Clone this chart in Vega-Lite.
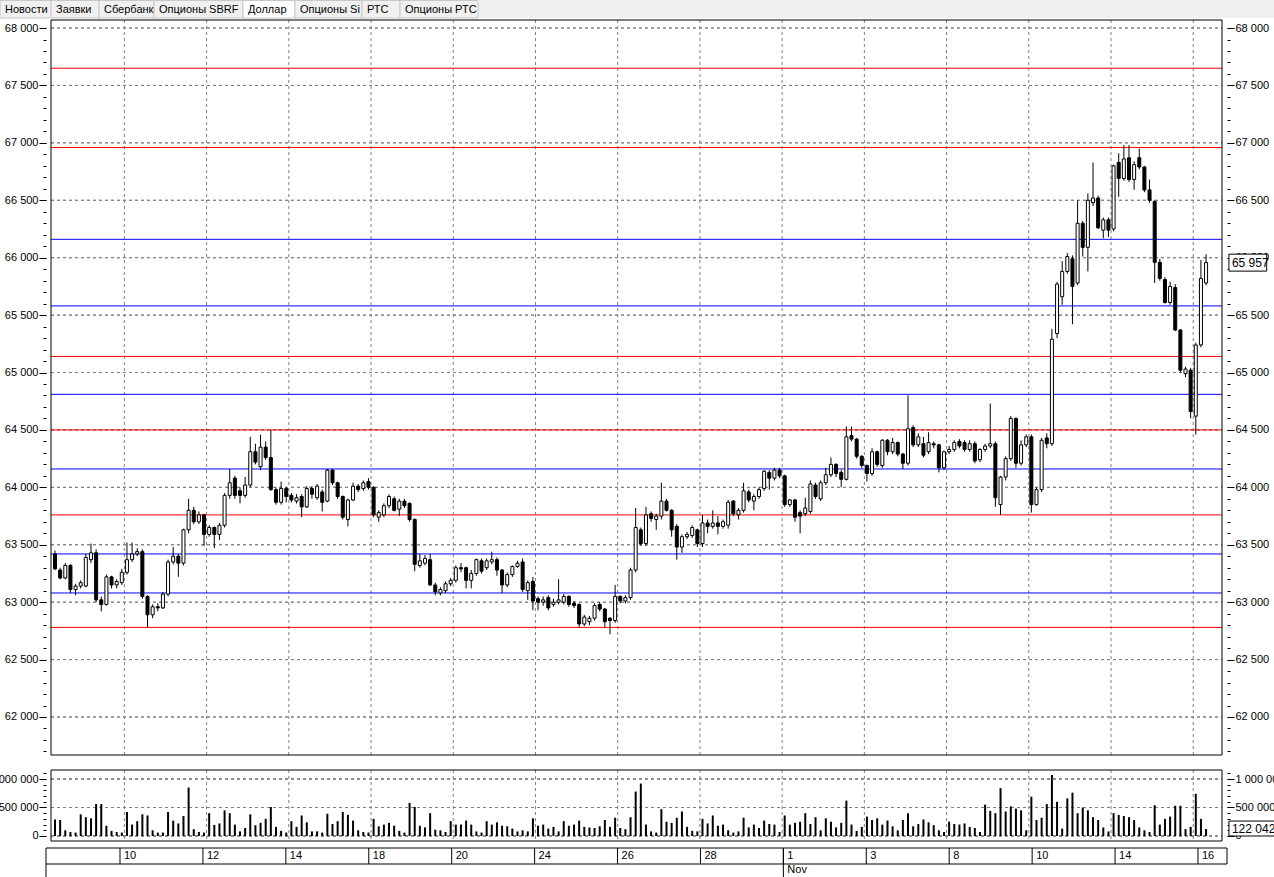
{
"$schema":"https://vega.github.io/schema/vega-lite/v6.json",
"width":1274,"height":877,
"autosize":{"type":"none"},
"padding":0,
"background":"#ffffff",
"config":{"view":{"stroke":null},"axis":{"labelFont":"Liberation Sans","labelFontSize":11,"labelColor":"#000000","tickColor":"#000000","zindex":0,"domain":false,"grid":false},"text":{"font":"Liberation Sans"}},
"datasets":{
"k":[
{"i":2,"o":63420,"h":63450,"l":63280,"c":63290,"v":290000},
{"i":3,"o":63280,"h":63300,"l":63200,"c":63210,"v":280000},
{"i":4,"o":63210,"h":63340,"l":63200,"c":63320,"v":100000},
{"i":5,"o":63320,"h":63330,"l":63080,"c":63110,"v":70000},
{"i":6,"o":63110,"h":63160,"l":63060,"c":63140,"v":60000},
{"i":7,"o":63140,"h":63190,"l":63120,"c":63170,"v":380000},
{"i":8,"o":63140,"h":63420,"l":63130,"c":63390,"v":330000},
{"i":9,"o":63370,"h":63510,"l":63340,"c":63430,"v":310000},
{"i":10,"o":63430,"h":63460,"l":63000,"c":63020,"v":560000},
{"i":11,"o":63020,"h":63050,"l":62920,"c":62980,"v":560000},
{"i":12,"o":62980,"h":63240,"l":62970,"c":63220,"v":180000},
{"i":13,"o":63220,"h":63230,"l":63120,"c":63150,"v":90000},
{"i":14,"o":63150,"h":63200,"l":63120,"c":63180,"v":70000},
{"i":15,"o":63170,"h":63290,"l":63150,"c":63260,"v":60000},
{"i":16,"o":63260,"h":63520,"l":63240,"c":63370,"v":420000},
{"i":17,"o":63370,"h":63520,"l":63350,"c":63420,"v":200000},
{"i":18,"o":63420,"h":63470,"l":63400,"c":63440,"v":260000},
{"i":19,"o":63440,"h":63460,"l":63030,"c":63050,"v":380000},
{"i":20,"o":63050,"h":63060,"l":62780,"c":62890,"v":360000},
{"i":21,"o":62890,"h":62980,"l":62860,"c":62960,"v":100000},
{"i":22,"o":62960,"h":62990,"l":62920,"c":62950,"v":60000},
{"i":23,"o":62950,"h":63090,"l":62940,"c":63070,"v":60000},
{"i":24,"o":63070,"h":63370,"l":63050,"c":63350,"v":420000},
{"i":25,"o":63350,"h":63480,"l":63330,"c":63400,"v":270000},
{"i":26,"o":63400,"h":63420,"l":63220,"c":63340,"v":220000},
{"i":27,"o":63340,"h":63640,"l":63320,"c":63630,"v":350000},
{"i":28,"o":63630,"h":63900,"l":63600,"c":63800,"v":850000},
{"i":29,"o":63800,"h":63830,"l":63680,"c":63700,"v":120000},
{"i":30,"o":63700,"h":63790,"l":63680,"c":63760,"v":70000},
{"i":31,"o":63760,"h":63770,"l":63490,"c":63590,"v":60000},
{"i":32,"o":63590,"h":63670,"l":63570,"c":63650,"v":400000},
{"i":33,"o":63650,"h":63660,"l":63470,"c":63590,"v":195000},
{"i":34,"o":63590,"h":63690,"l":63540,"c":63670,"v":220000},
{"i":35,"o":63670,"h":63950,"l":63650,"c":63930,"v":450000},
{"i":36,"o":63930,"h":64160,"l":63900,"c":64040,"v":400000},
{"i":37,"o":64080,"h":64100,"l":63900,"c":63930,"v":200000},
{"i":38,"o":63970,"h":64000,"l":63860,"c":63930,"v":80000},
{"i":39,"o":63930,"h":64090,"l":63910,"c":64020,"v":140000},
{"i":40,"o":64020,"h":64440,"l":64000,"c":64310,"v":380000},
{"i":41,"o":64310,"h":64380,"l":64200,"c":64220,"v":190000},
{"i":42,"o":64180,"h":64460,"l":64150,"c":64350,"v":230000},
{"i":43,"o":64350,"h":64400,"l":64240,"c":64260,"v":300000},
{"i":44,"o":64260,"h":64500,"l":63970,"c":63980,"v":510000},
{"i":45,"o":63980,"h":64000,"l":63850,"c":63870,"v":160000},
{"i":46,"o":63870,"h":64050,"l":63850,"c":63990,"v":90000},
{"i":47,"o":63990,"h":64000,"l":63870,"c":63920,"v":60000},
{"i":48,"o":63930,"h":63950,"l":63870,"c":63890,"v":260000},
{"i":49,"o":63880,"h":63940,"l":63860,"c":63910,"v":160000},
{"i":50,"o":63920,"h":63940,"l":63740,"c":63830,"v":360000},
{"i":51,"o":63830,"h":64010,"l":63820,"c":63990,"v":240000},
{"i":52,"o":63990,"h":64010,"l":63900,"c":63940,"v":80000},
{"i":53,"o":63910,"h":64030,"l":63890,"c":64010,"v":80000},
{"i":54,"o":63960,"h":63980,"l":63790,"c":63870,"v":60000},
{"i":55,"o":63880,"h":64160,"l":63870,"c":64150,"v":390000},
{"i":56,"o":64150,"h":64160,"l":64020,"c":64040,"v":210000},
{"i":57,"o":64040,"h":64050,"l":63900,"c":63920,"v":260000},
{"i":58,"o":63920,"h":63930,"l":63720,"c":63740,"v":420000},
{"i":59,"o":63720,"h":63900,"l":63660,"c":63890,"v":370000},
{"i":60,"o":63890,"h":64040,"l":63880,"c":64010,"v":270000},
{"i":61,"o":64010,"h":64030,"l":63960,"c":63980,"v":100000},
{"i":62,"o":63990,"h":64060,"l":63970,"c":64040,"v":70000},
{"i":63,"o":64050,"h":64080,"l":63980,"c":64000,"v":60000},
{"i":64,"o":64000,"h":64010,"l":63740,"c":63760,"v":300000},
{"i":65,"o":63740,"h":63800,"l":63700,"c":63780,"v":170000},
{"i":66,"o":63760,"h":63860,"l":63740,"c":63840,"v":200000},
{"i":67,"o":63840,"h":63940,"l":63820,"c":63920,"v":230000},
{"i":68,"o":63900,"h":63920,"l":63790,"c":63800,"v":180000},
{"i":69,"o":63810,"h":63900,"l":63750,"c":63880,"v":90000},
{"i":70,"o":63880,"h":63900,"l":63820,"c":63840,"v":60000},
{"i":71,"o":63860,"h":63870,"l":63700,"c":63720,"v":580000},
{"i":72,"o":63720,"h":63730,"l":63270,"c":63330,"v":510000},
{"i":73,"o":63320,"h":63420,"l":63300,"c":63360,"v":180000},
{"i":74,"o":63340,"h":63410,"l":63320,"c":63380,"v":150000},
{"i":75,"o":63370,"h":63420,"l":63140,"c":63150,"v":400000},
{"i":76,"o":63150,"h":63170,"l":63060,"c":63090,"v":110000},
{"i":77,"o":63080,"h":63130,"l":63060,"c":63110,"v":100000},
{"i":78,"o":63100,"h":63180,"l":63080,"c":63160,"v":70000},
{"i":79,"o":63160,"h":63210,"l":63140,"c":63190,"v":260000},
{"i":80,"o":63190,"h":63320,"l":63170,"c":63300,"v":200000},
{"i":81,"o":63300,"h":63340,"l":63260,"c":63290,"v":200000},
{"i":82,"o":63300,"h":63310,"l":63120,"c":63190,"v":270000},
{"i":83,"o":63190,"h":63280,"l":63120,"c":63250,"v":200000},
{"i":84,"o":63250,"h":63380,"l":63230,"c":63370,"v":80000},
{"i":85,"o":63360,"h":63380,"l":63250,"c":63270,"v":60000},
{"i":86,"o":63300,"h":63380,"l":63280,"c":63360,"v":260000},
{"i":87,"o":63350,"h":63440,"l":63330,"c":63370,"v":200000},
{"i":88,"o":63370,"h":63390,"l":63230,"c":63280,"v":240000},
{"i":89,"o":63280,"h":63290,"l":63080,"c":63150,"v":180000},
{"i":90,"o":63150,"h":63260,"l":63130,"c":63240,"v":170000},
{"i":91,"o":63240,"h":63320,"l":63220,"c":63310,"v":130000},
{"i":92,"o":63310,"h":63360,"l":63300,"c":63340,"v":80000},
{"i":93,"o":63350,"h":63380,"l":63090,"c":63110,"v":100000},
{"i":94,"o":63100,"h":63190,"l":63020,"c":63170,"v":80000},
{"i":95,"o":63180,"h":63220,"l":62930,"c":63010,"v":310000},
{"i":96,"o":63030,"h":63050,"l":62930,"c":63000,"v":180000},
{"i":97,"o":63000,"h":63050,"l":62970,"c":63020,"v":200000},
{"i":98,"o":63040,"h":63060,"l":62930,"c":62950,"v":130000},
{"i":99,"o":62980,"h":63030,"l":62960,"c":63000,"v":160000},
{"i":100,"o":63000,"h":63200,"l":62980,"c":63020,"v":80000},
{"i":101,"o":63000,"h":63070,"l":62980,"c":63050,"v":260000},
{"i":102,"o":63050,"h":63060,"l":62960,"c":62980,"v":180000},
{"i":103,"o":62990,"h":63010,"l":62950,"c":62970,"v":200000},
{"i":104,"o":62980,"h":62990,"l":62780,"c":62810,"v":270000},
{"i":105,"o":62810,"h":62890,"l":62790,"c":62870,"v":160000},
{"i":106,"o":62830,"h":62880,"l":62800,"c":62860,"v":150000},
{"i":107,"o":62860,"h":62990,"l":62840,"c":62970,"v":140000},
{"i":108,"o":62980,"h":63000,"l":62920,"c":62940,"v":170000},
{"i":109,"o":62940,"h":62950,"l":62780,"c":62830,"v":280000},
{"i":110,"o":62860,"h":62870,"l":62720,"c":62840,"v":160000},
{"i":111,"o":62840,"h":63150,"l":62820,"c":63050,"v":320000},
{"i":112,"o":63050,"h":63060,"l":62990,"c":63010,"v":140000},
{"i":113,"o":63010,"h":63060,"l":62990,"c":63040,"v":120000},
{"i":114,"o":63040,"h":63300,"l":63020,"c":63280,"v":330000},
{"i":115,"o":63280,"h":63820,"l":63260,"c":63650,"v":780000},
{"i":116,"o":63630,"h":63650,"l":63490,"c":63510,"v":920000},
{"i":117,"o":63510,"h":63830,"l":63490,"c":63760,"v":200000},
{"i":118,"o":63770,"h":63790,"l":63700,"c":63730,"v":80000},
{"i":119,"o":63720,"h":63770,"l":63630,"c":63750,"v":60000},
{"i":120,"o":63750,"h":64040,"l":63720,"c":63880,"v":470000},
{"i":121,"o":63880,"h":63900,"l":63790,"c":63800,"v":250000},
{"i":122,"o":63800,"h":63810,"l":63570,"c":63630,"v":230000},
{"i":123,"o":63660,"h":63680,"l":63370,"c":63480,"v":320000},
{"i":124,"o":63480,"h":63590,"l":63430,"c":63570,"v":430000},
{"i":125,"o":63570,"h":63610,"l":63550,"c":63590,"v":160000},
{"i":126,"o":63580,"h":63670,"l":63560,"c":63650,"v":90000},
{"i":127,"o":63630,"h":63640,"l":63480,"c":63510,"v":80000},
{"i":128,"o":63510,"h":63760,"l":63480,"c":63690,"v":300000},
{"i":129,"o":63690,"h":63720,"l":63600,"c":63660,"v":220000},
{"i":130,"o":63660,"h":63800,"l":63640,"c":63690,"v":360000},
{"i":131,"o":63690,"h":63750,"l":63590,"c":63660,"v":180000},
{"i":132,"o":63660,"h":63720,"l":63640,"c":63700,"v":200000},
{"i":133,"o":63670,"h":63890,"l":63640,"c":63870,"v":100000},
{"i":134,"o":63880,"h":63890,"l":63750,"c":63770,"v":60000},
{"i":135,"o":63760,"h":63820,"l":63720,"c":63800,"v":80000},
{"i":136,"o":63800,"h":64040,"l":63780,"c":63970,"v":320000},
{"i":137,"o":63960,"h":63980,"l":63870,"c":63890,"v":150000},
{"i":138,"o":63880,"h":63940,"l":63800,"c":63920,"v":200000},
{"i":139,"o":63920,"h":64000,"l":63900,"c":63980,"v":140000},
{"i":140,"o":63990,"h":64150,"l":63970,"c":64140,"v":270000},
{"i":141,"o":64130,"h":64150,"l":63980,"c":64080,"v":210000},
{"i":142,"o":64080,"h":64170,"l":64060,"c":64150,"v":200000},
{"i":143,"o":64150,"h":64170,"l":64080,"c":64100,"v":70000},
{"i":144,"o":64100,"h":64110,"l":63830,"c":63850,"v":360000},
{"i":145,"o":63850,"h":63900,"l":63830,"c":63890,"v":200000},
{"i":146,"o":63890,"h":63900,"l":63700,"c":63740,"v":230000},
{"i":147,"o":63780,"h":63800,"l":63600,"c":63750,"v":250000},
{"i":148,"o":63770,"h":63910,"l":63750,"c":63820,"v":400000},
{"i":149,"o":63790,"h":64060,"l":63770,"c":64030,"v":210000},
{"i":150,"o":64020,"h":64040,"l":63900,"c":63920,"v":330000},
{"i":151,"o":63900,"h":64060,"l":63880,"c":64040,"v":100000},
{"i":152,"o":64040,"h":64170,"l":64020,"c":64110,"v":310000},
{"i":153,"o":64110,"h":64260,"l":64090,"c":64200,"v":250000},
{"i":154,"o":64200,"h":64210,"l":64090,"c":64120,"v":150000},
{"i":155,"o":64130,"h":64150,"l":64000,"c":64070,"v":230000},
{"i":156,"o":64070,"h":64530,"l":64060,"c":64440,"v":620000},
{"i":157,"o":64450,"h":64530,"l":64400,"c":64420,"v":200000},
{"i":158,"o":64420,"h":64430,"l":64250,"c":64270,"v":90000},
{"i":159,"o":64270,"h":64280,"l":64170,"c":64190,"v":160000},
{"i":160,"o":64190,"h":64200,"l":64050,"c":64120,"v":340000},
{"i":161,"o":64120,"h":64340,"l":64100,"c":64310,"v":280000},
{"i":162,"o":64310,"h":64320,"l":64180,"c":64200,"v":310000},
{"i":163,"o":64190,"h":64420,"l":64170,"c":64410,"v":200000},
{"i":164,"o":64410,"h":64420,"l":64280,"c":64310,"v":270000},
{"i":165,"o":64310,"h":64430,"l":64290,"c":64390,"v":170000},
{"i":166,"o":64390,"h":64400,"l":64270,"c":64290,"v":100000},
{"i":167,"o":64290,"h":64300,"l":64160,"c":64210,"v":280000},
{"i":168,"o":64210,"h":64800,"l":64190,"c":64510,"v":400000},
{"i":169,"o":64520,"h":64540,"l":64350,"c":64370,"v":170000},
{"i":170,"o":64370,"h":64470,"l":64350,"c":64440,"v":210000},
{"i":171,"o":64380,"h":64440,"l":64260,"c":64280,"v":290000},
{"i":172,"o":64310,"h":64480,"l":64290,"c":64390,"v":240000},
{"i":173,"o":64380,"h":64400,"l":64340,"c":64370,"v":190000},
{"i":174,"o":64370,"h":64380,"l":64130,"c":64170,"v":100000},
{"i":175,"o":64170,"h":64320,"l":64150,"c":64310,"v":70000},
{"i":176,"o":64310,"h":64360,"l":64290,"c":64330,"v":250000},
{"i":177,"o":64330,"h":64410,"l":64310,"c":64390,"v":210000},
{"i":178,"o":64400,"h":64420,"l":64340,"c":64360,"v":200000},
{"i":179,"o":64390,"h":64410,"l":64310,"c":64330,"v":220000},
{"i":180,"o":64330,"h":64410,"l":64310,"c":64380,"v":160000},
{"i":181,"o":64380,"h":64400,"l":64210,"c":64230,"v":140000},
{"i":182,"o":64240,"h":64340,"l":64220,"c":64330,"v":70000},
{"i":183,"o":64330,"h":64380,"l":64310,"c":64360,"v":550000},
{"i":184,"o":64360,"h":64730,"l":64340,"c":64380,"v":440000},
{"i":185,"o":64380,"h":64400,"l":63830,"c":63910,"v":400000},
{"i":186,"o":63850,"h":64100,"l":63760,"c":64090,"v":840000},
{"i":187,"o":64090,"h":64270,"l":64060,"c":64250,"v":430000},
{"i":188,"o":64250,"h":64620,"l":64230,"c":64600,"v":520000},
{"i":189,"o":64600,"h":64610,"l":64170,"c":64210,"v":480000},
{"i":190,"o":64210,"h":64410,"l":64190,"c":64370,"v":450000},
{"i":191,"o":64370,"h":64460,"l":64350,"c":64440,"v":100000},
{"i":192,"o":64440,"h":64460,"l":63780,"c":63850,"v":690000},
{"i":193,"o":63850,"h":64000,"l":63840,"c":63980,"v":280000},
{"i":194,"o":63980,"h":64430,"l":63960,"c":64410,"v":320000},
{"i":195,"o":64430,"h":64470,"l":64340,"c":64380,"v":560000},
{"i":196,"o":64380,"h":65380,"l":64360,"c":65290,"v":1070000},
{"i":197,"o":65340,"h":65790,"l":65300,"c":65770,"v":600000},
{"i":198,"o":65660,"h":65970,"l":65590,"c":65880,"v":130000},
{"i":199,"o":65880,"h":66040,"l":65860,"c":66010,"v":660000},
{"i":200,"o":65990,"h":66020,"l":65420,"c":65750,"v":760000},
{"i":201,"o":65780,"h":66500,"l":65760,"c":66300,"v":400000},
{"i":202,"o":66300,"h":66320,"l":66010,"c":66090,"v":500000},
{"i":203,"o":66090,"h":66560,"l":65880,"c":66500,"v":450000},
{"i":204,"o":66480,"h":66830,"l":66450,"c":66520,"v":330000},
{"i":205,"o":66520,"h":66540,"l":66250,"c":66260,"v":280000},
{"i":206,"o":66240,"h":66350,"l":66170,"c":66330,"v":150000},
{"i":207,"o":66330,"h":66350,"l":66180,"c":66240,"v":80000},
{"i":208,"o":66250,"h":66810,"l":66230,"c":66800,"v":400000},
{"i":209,"o":66830,"h":66910,"l":66530,"c":66690,"v":370000},
{"i":210,"o":66690,"h":66980,"l":66670,"c":66860,"v":350000},
{"i":211,"o":66870,"h":66980,"l":66660,"c":66680,"v":330000},
{"i":212,"o":66680,"h":66840,"l":66590,"c":66810,"v":280000},
{"i":213,"o":66870,"h":66950,"l":66770,"c":66790,"v":150000},
{"i":214,"o":66790,"h":66800,"l":66570,"c":66590,"v":100000},
{"i":215,"o":66590,"h":66680,"l":66480,"c":66500,"v":70000},
{"i":216,"o":66490,"h":66500,"l":65780,"c":65960,"v":540000},
{"i":217,"o":65960,"h":65990,"l":65800,"c":65820,"v":200000},
{"i":218,"o":65810,"h":65830,"l":65600,"c":65610,"v":300000},
{"i":219,"o":65610,"h":65790,"l":65590,"c":65750,"v":340000},
{"i":220,"o":65740,"h":65770,"l":65360,"c":65370,"v":530000},
{"i":221,"o":65370,"h":65380,"l":65000,"c":65020,"v":530000},
{"i":222,"o":64990,"h":65050,"l":64960,"c":65030,"v":120000},
{"i":223,"o":65020,"h":65040,"l":64600,"c":64660,"v":160000},
{"i":224,"o":64620,"h":65260,"l":64460,"c":65240,"v":740000},
{"i":225,"o":65240,"h":65980,"l":65220,"c":65820,"v":300000},
{"i":226,"o":65780,"h":66030,"l":65760,"c":65957,"v":122042}
],
"lv":[{"p":67650,"k":"r"},{"p":66960,"k":"r"},{"p":66160,"k":"b"},{"p":65580,"k":"b"},{"p":65140,"k":"r"},{"p":64810,"k":"b"},{"p":64500,"k":"r"},{"p":64160,"k":"b"},{"p":63760,"k":"r"},{"p":63420,"k":"b"},{"p":63080,"k":"b"},{"p":62780,"k":"r"}],
"pg":[{"p":62000},{"p":62500},{"p":63000},{"p":63500},{"p":64000},{"p":64500},{"p":65000},{"p":65500},{"p":66000},{"p":66500},{"p":67000},{"p":67500},{"p":68000}],
"vg":[{"v":0},{"v":500000},{"v":1000000}],
"days":[{"b":15.5,"lab":"10"},{"b":31.5,"lab":"12"},{"b":47.5,"lab":"14"},{"b":63.5,"lab":"18"},{"b":79.5,"lab":"20"},{"b":95.5,"lab":"24"},{"b":111.5,"lab":"26"},{"b":127.5,"lab":"28"},{"b":143.5,"lab":"1"},{"b":159.5,"lab":"3"},{"b":175.5,"lab":"8"},{"b":191.5,"lab":"10"},{"b":207.5,"lab":"14"},{"b":223.5,"lab":"16"}],
"mo":[{"b":143.5,"m":"Nov"}],
"last":[{"p":65957,"t":"65 957"}],
"lastv":[{"v":122042,"t":"122 042"}],
"tabs":[{"n":"Новости","x0":0,"x1":51,"a":0},{"n":"Заявки","x0":51,"x1":99,"a":0},{"n":"Сбербанк","x0":99,"x1":154,"a":0},{"n":"Опционы SBRF","x0":154,"x1":243,"a":0},{"n":"Доллар","x0":243,"x1":295,"a":1},{"n":"Опционы Si","x0":295,"x1":362,"a":0},{"n":"РТС","x0":362,"x1":400,"a":0},{"n":"Опционы РТС","x0":400,"x1":478,"a":0}]
},
"layer":[
{"layer":[
 {"data":{"values":[{}]},"mark":{"type":"rect","fill":"#f0f0f0"},
  "encoding":{"x":{"datum":0,"type":"quantitative","scale":{"domain":[0,1274],"range":[0,1274],"nice":false,"zero":false},"axis":null},"x2":{"datum":1274},
   "y":{"datum":0,"type":"quantitative","scale":{"domain":[0,18],"range":[0,18],"nice":false,"zero":false},"axis":null},"y2":{"datum":18}}},
 {"data":{"name":"tabs"},"mark":{"type":"rect","stroke":"#c8c8c8","strokeWidth":1},
  "encoding":{"x":{"field":"x0","type":"quantitative","scale":{"domain":[0,1274],"range":[0,1274],"nice":false,"zero":false},"axis":null},"x2":{"field":"x1"},
   "y":{"datum":0.5,"type":"quantitative","scale":{"domain":[0,18],"range":[0,18],"nice":false,"zero":false},"axis":null},"y2":{"datum":18},
   "fill":{"condition":{"test":"datum.a == 1","value":"#ffffff"},"value":"#f0f0f0"}}},
 {"data":{"name":"tabs"},"mark":{"type":"text","align":"left","baseline":"middle","fontSize":11,"dx":5,"color":"#000000"},
  "encoding":{"x":{"field":"x0","type":"quantitative","scale":{"domain":[0,1274],"range":[0,1274],"nice":false,"zero":false},"axis":null},
   "y":{"datum":9.5,"type":"quantitative","scale":{"domain":[0,18],"range":[0,18],"nice":false,"zero":false},"axis":null},
   "text":{"field":"n","type":"nominal"}}}
]},
{"layer":[
 {"data":{"name":"pg"},"mark":{"type":"rule","color":"#808080","strokeDash":[3,3],"strokeWidth":1},
  "encoding":{"y":{"field":"p","type":"quantitative","title":null,"scale":{"domain":[61669,68070],"range":[755,20],"nice":false,"zero":false},
     "axis":{"orient":"left","offset":-46,"values":[62000,62500,63000,63500,64000,64500,65000,65500,66000,66500,67000,67500,68000],"tickSize":7,"labelPadding":1,"labelExpr":"replace(format(datum.value, ','), ',', ' ')","domain":false,"grid":false,"title":null,"labelOverlap":false,"labelFlush":false}},
   "x":{"datum":1.22,"type":"quantitative","scale":{"domain":[1.22,229.1],"range":[46,1227],"nice":false,"zero":false},"axis":null},"x2":{"datum":229.1}}},
 {"data":{"name":"pg"},"mark":{"type":"rule","color":"#808080","strokeDash":[3,3],"strokeWidth":1},
  "encoding":{"y":{"field":"p","type":"quantitative","title":null,"scale":{"domain":[61669,68070],"range":[755,20],"nice":false,"zero":false},
     "axis":{"orient":"right","offset":-47,"values":[62000,62500,63000,63500,64000,64500,65000,65500,66000,66500,67000,67500,68000],"tickSize":7,"labelPadding":1,"labelExpr":"replace(format(datum.value, ','), ',', ' ')","domain":false,"grid":false,"title":null,"labelOverlap":false,"labelFlush":false}},
   "x":{"datum":1.22,"type":"quantitative","scale":{"domain":[1.22,229.1],"range":[46,1227],"nice":false,"zero":false},"axis":null},"x2":{"datum":229.1}}},
 {"data":{"name":"days"},"mark":{"type":"rule","color":"#808080","strokeDash":[3,3],"strokeWidth":1},
  "encoding":{"x":{"field":"b","type":"quantitative","scale":{"domain":[1.22,229.1],"range":[46,1227],"nice":false,"zero":false},"axis":null},
   "y":{"datum":68070,"type":"quantitative","scale":{"domain":[61669,68070],"range":[755,20],"nice":false,"zero":false},"axis":null},"y2":{"datum":61669}}},
 {"data":{"name":"lv"},"mark":{"type":"rule","strokeWidth":1},
  "encoding":{"y":{"field":"p","type":"quantitative","scale":{"domain":[61669,68070],"range":[755,20],"nice":false,"zero":false},"axis":null},
   "x":{"datum":1.22,"type":"quantitative","scale":{"domain":[1.22,229.1],"range":[46,1227],"nice":false,"zero":false},"axis":null},"x2":{"datum":229.1},
   "color":{"field":"k","type":"nominal","scale":{"domain":["r","b"],"range":["#ff0000","#0000ff"]},"legend":null}}},
 {"data":{"values":[{}]},"mark":{"type":"rect","fillOpacity":0,"stroke":"#000000","strokeWidth":1},
  "encoding":{"x":{"datum":1.22,"type":"quantitative","scale":{"domain":[1.22,229.1],"range":[46,1227],"nice":false,"zero":false},"axis":null},"x2":{"datum":229.1},
   "y":{"datum":68070,"type":"quantitative","scale":{"domain":[61669,68070],"range":[755,20],"nice":false,"zero":false},"axis":null},"y2":{"datum":61669}}},
 {"data":{"name":"k"},"mark":{"type":"rule","color":"#000000","strokeWidth":1},
  "encoding":{"x":{"field":"i","type":"quantitative","scale":{"domain":[1.22,229.1],"range":[46,1227],"nice":false,"zero":false},"axis":null},
   "y":{"field":"l","type":"quantitative","title":null,"scale":{"domain":[61669,68070],"range":[755,20],"nice":false,"zero":false},
     "axis":{"orient":"left","offset":-46,"values":[61700,61800,61900,62000,62100,62200,62300,62400,62500,62600,62700,62800,62900,63000,63100,63200,63300,63400,63500,63600,63700,63800,63900,64000,64100,64200,64300,64400,64500,64600,64700,64800,64900,65000,65100,65200,65300,65400,65500,65600,65700,65800,65900,66000,66100,66200,66300,66400,66500,66600,66700,66800,66900,67000,67100,67200,67300,67400,67500,67600,67700,67800,67900,68000],"tickSize":3,"labels":false,"domain":false,"grid":false,"title":null}},
   "y2":{"field":"h"}}},
 {"data":{"name":"k"},"mark":{"type":"bar","width":3,"stroke":"#000000","strokeWidth":1},
  "encoding":{"x":{"field":"i","type":"quantitative","scale":{"domain":[1.22,229.1],"range":[46,1227],"nice":false,"zero":false},"axis":null},
   "y":{"field":"o","type":"quantitative","title":null,"scale":{"domain":[61669,68070],"range":[755,20],"nice":false,"zero":false},
     "axis":{"orient":"right","offset":-47,"values":[61700,61800,61900,62000,62100,62200,62300,62400,62500,62600,62700,62800,62900,63000,63100,63200,63300,63400,63500,63600,63700,63800,63900,64000,64100,64200,64300,64400,64500,64600,64700,64800,64900,65000,65100,65200,65300,65400,65500,65600,65700,65800,65900,66000,66100,66200,66300,66400,66500,66600,66700,66800,66900,67000,67100,67200,67300,67400,67500,67600,67700,67800,67900,68000],"tickSize":3,"labels":false,"domain":false,"grid":false,"title":null}},
   "y2":{"field":"c"},
   "fill":{"condition":{"test":"datum.c < datum.o","value":"#000000"},"value":"#ffffff"}}},
 {"data":{"name":"last"},"mark":{"type":"rect","fill":"#ffffff","stroke":"#000000","strokeWidth":1},
  "encoding":{"x":{"datum":230.45,"type":"quantitative","scale":{"domain":[1.22,229.1],"range":[46,1227],"nice":false,"zero":false},"axis":null},"x2":{"datum":237.8},
   "y":{"datum":66031,"type":"quantitative","scale":{"domain":[61669,68070],"range":[755,20],"nice":false,"zero":false},"axis":null},"y2":{"datum":65883}}},
 {"data":{"name":"last"},"mark":{"type":"text","align":"left","baseline":"middle","fontSize":12,"dx":3,"color":"#000000"},
  "encoding":{"x":{"datum":230.45,"type":"quantitative","scale":{"domain":[1.22,229.1],"range":[46,1227],"nice":false,"zero":false},"axis":null},
   "y":{"field":"p","type":"quantitative","scale":{"domain":[61669,68070],"range":[755,20],"nice":false,"zero":false},"axis":null},
   "text":{"field":"t","type":"nominal"}}}
],
"resolve":{"axis":{"y":"independent"}}},
{"layer":[
 {"data":{"name":"vg"},"mark":{"type":"rule","color":"#808080","strokeDash":[3,3],"strokeWidth":1},
  "encoding":{"y":{"field":"v","type":"quantitative","title":null,"scale":{"domain":[-88000,1158000],"range":[841,770],"nice":false,"zero":false},
     "axis":{"orient":"left","offset":-46,"values":[0,500000,1000000],"tickSize":7,"labelPadding":1,"labelExpr":"replace(format(datum.value, ','), regexp(',', 'g'), ' ')","domain":false,"grid":false,"title":null,"labelOverlap":false,"labelFlush":false}},
   "x":{"datum":1.22,"type":"quantitative","scale":{"domain":[1.22,229.1],"range":[46,1227],"nice":false,"zero":false},"axis":null},"x2":{"datum":229.1}}},
 {"data":{"name":"vg"},"mark":{"type":"rule","color":"#808080","strokeDash":[3,3],"strokeWidth":1},
  "encoding":{"y":{"field":"v","type":"quantitative","title":null,"scale":{"domain":[-88000,1158000],"range":[841,770],"nice":false,"zero":false},
     "axis":{"orient":"right","offset":-47,"values":[0,500000,1000000],"tickSize":7,"labelPadding":1,"labelExpr":"replace(format(datum.value, ','), regexp(',', 'g'), ' ')","domain":false,"grid":false,"title":null,"labelOverlap":false,"labelFlush":false}},
   "x":{"datum":1.22,"type":"quantitative","scale":{"domain":[1.22,229.1],"range":[46,1227],"nice":false,"zero":false},"axis":null},"x2":{"datum":229.1}}},
 {"data":{"name":"vg"},"mark":{"type":"rule","color":"#808080","strokeDash":[3,3],"strokeWidth":1},
  "encoding":{"y":{"field":"v","type":"quantitative","title":null,"scale":{"domain":[-88000,1158000],"range":[841,770],"nice":false,"zero":false},
     "axis":{"orient":"right","offset":-47,"values":[0,100000,200000,300000,400000,500000,600000,700000,800000,900000,1000000,1100000],"tickSize":3,"labels":false,"domain":false,"grid":false,"title":null}},
   "x":{"datum":1.22,"type":"quantitative","scale":{"domain":[1.22,229.1],"range":[46,1227],"nice":false,"zero":false},"axis":null},"x2":{"datum":229.1}}},
 {"data":{"name":"days"},"mark":{"type":"rule","color":"#808080","strokeDash":[3,3],"strokeWidth":1},
  "encoding":{"x":{"field":"b","type":"quantitative","scale":{"domain":[1.22,229.1],"range":[46,1227],"nice":false,"zero":false},"axis":null},
   "y":{"datum":1158000,"type":"quantitative","scale":{"domain":[-88000,1158000],"range":[841,770],"nice":false,"zero":false},"axis":null},"y2":{"datum":-88000}}},
 {"data":{"values":[{}]},"mark":{"type":"rect","fillOpacity":0,"stroke":"#000000","strokeWidth":1},
  "encoding":{"x":{"datum":1.22,"type":"quantitative","scale":{"domain":[1.22,229.1],"range":[46,1227],"nice":false,"zero":false},"axis":null},"x2":{"datum":229.1},
   "y":{"datum":1158000,"type":"quantitative","scale":{"domain":[-88000,1158000],"range":[841,770],"nice":false,"zero":false},"axis":null},"y2":{"datum":-88000}}},
 {"data":{"name":"k"},"mark":{"type":"bar","width":2,"color":"#000000"},
  "encoding":{"x":{"field":"i","type":"quantitative","scale":{"domain":[1.22,229.1],"range":[46,1227],"nice":false,"zero":false},"axis":null},
   "y":{"field":"v","type":"quantitative","stack":null,"title":null,"scale":{"domain":[-88000,1158000],"range":[841,770],"nice":false,"zero":false},
     "axis":{"orient":"left","offset":-46,"values":[0,100000,200000,300000,400000,500000,600000,700000,800000,900000,1000000,1100000],"tickSize":3,"labels":false,"domain":false,"grid":false,"title":null}},
   "y2":{"datum":0}}},
 {"data":{"name":"lastv"},"mark":{"type":"rect","fill":"#ffffff","stroke":"#000000","strokeWidth":1},
  "encoding":{"x":{"datum":230.45,"type":"quantitative","scale":{"domain":[1.22,229.1],"range":[46,1227],"nice":false,"zero":false},"axis":null},"x2":{"datum":240},
   "y":{"datum":262000,"type":"quantitative","scale":{"domain":[-88000,1158000],"range":[841,770],"nice":false,"zero":false},"axis":null},"y2":{"datum":0}}},
 {"data":{"name":"lastv"},"mark":{"type":"text","align":"left","baseline":"middle","fontSize":12,"dx":3,"color":"#000000"},
  "encoding":{"x":{"datum":230.45,"type":"quantitative","scale":{"domain":[1.22,229.1],"range":[46,1227],"nice":false,"zero":false},"axis":null},
   "y":{"field":"v","type":"quantitative","scale":{"domain":[-88000,1158000],"range":[841,770],"nice":false,"zero":false},"axis":null},
   "text":{"field":"t","type":"nominal"}}}
],
"resolve":{"axis":{"y":"independent"}}},
{"layer":[
 {"data":{"values":[{}]},"mark":{"type":"rect","fillOpacity":0,"stroke":"#000000","strokeWidth":1},
  "encoding":{"x":{"datum":1.22,"type":"quantitative","scale":{"domain":[1.22,229.1],"range":[46,1227],"nice":false,"zero":false},"axis":null},"x2":{"datum":229.1},
   "y":{"datum":0,"type":"quantitative","scale":{"domain":[0,2],"range":[848,880],"nice":false,"zero":false},"axis":null},"y2":{"datum":1}}},
 {"data":{"name":"days"},"mark":{"type":"rule","color":"#000000","strokeWidth":1},
  "encoding":{"x":{"field":"b","type":"quantitative","scale":{"domain":[1.22,229.1],"range":[46,1227],"nice":false,"zero":false},"axis":null},
   "y":{"datum":0,"type":"quantitative","scale":{"domain":[0,2],"range":[848,880],"nice":false,"zero":false},"axis":null},"y2":{"datum":1}}},
 {"data":{"name":"mo"},"mark":{"type":"rule","color":"#000000","strokeWidth":1},
  "encoding":{"x":{"field":"b","type":"quantitative","scale":{"domain":[1.22,229.1],"range":[46,1227],"nice":false,"zero":false},"axis":null},
   "y":{"datum":0,"type":"quantitative","scale":{"domain":[0,2],"range":[848,880],"nice":false,"zero":false},"axis":null},"y2":{"datum":2}}},
 {"data":{"values":[{}]},"mark":{"type":"rule","color":"#000000","strokeWidth":1},
  "encoding":{"x":{"datum":1.22,"type":"quantitative","scale":{"domain":[1.22,229.1],"range":[46,1227],"nice":false,"zero":false},"axis":null},
   "y":{"datum":1,"type":"quantitative","scale":{"domain":[0,2],"range":[848,880],"nice":false,"zero":false},"axis":null},"y2":{"datum":2}}},
 {"data":{"name":"days"},"mark":{"type":"text","align":"left","baseline":"middle","fontSize":11,"dx":4,"color":"#000000"},
  "encoding":{"x":{"field":"b","type":"quantitative","scale":{"domain":[1.22,229.1],"range":[46,1227],"nice":false,"zero":false},"axis":null},
   "y":{"datum":0.5,"type":"quantitative","scale":{"domain":[0,2],"range":[848,880],"nice":false,"zero":false},"axis":null},
   "text":{"field":"lab","type":"nominal"}}},
 {"data":{"name":"mo"},"mark":{"type":"text","align":"left","baseline":"middle","fontSize":11,"dx":4,"color":"#000000"},
  "encoding":{"x":{"field":"b","type":"quantitative","scale":{"domain":[1.22,229.1],"range":[46,1227],"nice":false,"zero":false},"axis":null},
   "y":{"datum":1.4,"type":"quantitative","scale":{"domain":[0,2],"range":[848,880],"nice":false,"zero":false},"axis":null},
   "text":{"field":"m","type":"nominal"}}}
]}
],
"resolve":{"scale":{"x":"independent","y":"independent"},"axis":{"x":"independent","y":"independent"}}
}
